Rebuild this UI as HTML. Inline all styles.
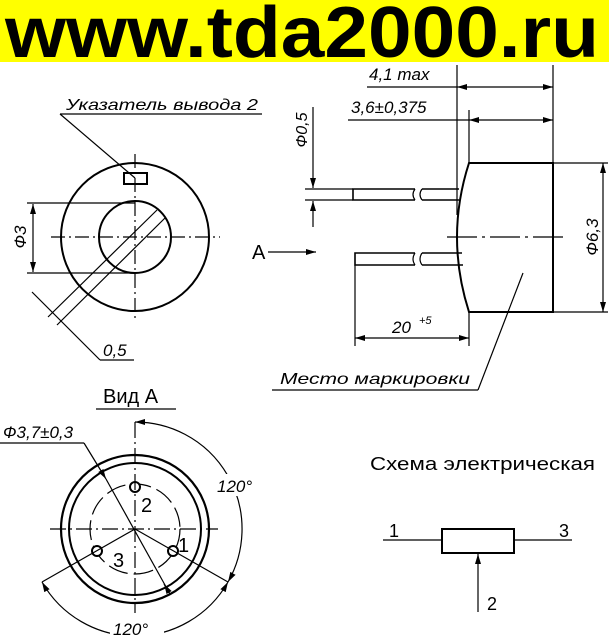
<!DOCTYPE html>
<html><head><meta charset="utf-8"><style>
html,body{margin:0;padding:0;background:#fff;}
svg{display:block;}
text{font-family:"Liberation Sans","DejaVu Sans",sans-serif;fill:#000;}
.i{font-style:italic;}
</style></head><body>
<svg width="609" height="637" viewBox="0 0 609 637" xmlns="http://www.w3.org/2000/svg">
<defs>
<marker id="ar" viewBox="0 0 10 6" refX="10" refY="3" markerWidth="10" markerHeight="6" orient="auto-start-reverse" markerUnits="userSpaceOnUse"><path d="M0,0 L10,3 L0,6 z" fill="#000"/></marker>
</defs>
<rect x="0" y="0" width="609" height="62" fill="#ffff00"/>
<text x="5" y="57" font-size="72" font-weight="bold" textLength="594" lengthAdjust="spacingAndGlyphs">www.tda2000.ru</text>

<g stroke="#000" fill="none" stroke-width="1.2">
<!-- left view -->
<circle cx="135" cy="237" r="74" stroke-width="2"/>
<circle cx="135" cy="237" r="36" stroke-width="2"/>
<rect x="124" y="173" width="23" height="11" stroke-width="2"/>
<line x1="135" y1="154" x2="135" y2="320" stroke-dasharray="14,4,2,4"/>
<line x1="51" y1="237" x2="220" y2="237" stroke-dasharray="14,4,2,4"/>
<line x1="157" y1="210" x2="48" y2="317"/>
<line x1="165" y1="218" x2="57" y2="325"/>
<line x1="32" y1="292" x2="100" y2="360"/>
<line x1="100" y1="360" x2="134" y2="360"/>
<line x1="27" y1="203" x2="135" y2="203"/>
<line x1="27" y1="273" x2="135" y2="273"/>
<line x1="33" y1="204" x2="33" y2="272" marker-start="url(#ar)" marker-end="url(#ar)"/>
<line x1="60" y1="114" x2="262" y2="114"/>
<line x1="60" y1="114" x2="135" y2="178"/>

<!-- side view -->
<path d="M469,163 L553,163 L553,312 L469,312 Q445,237 469,163 Z" stroke-width="2"/>
<path d="M415,189 L353,189 L353,200 L415,200 M422,189 L459,189 M422,200 L459,200" stroke-width="1.6"/>
<path d="M422,189 Q418,194.5 422,200 M415,189 Q411,194.5 415,200"/>
<path d="M415,253 L355,253 L355,265 L415,265 M422,253 L462,253 M422,265 L463,265" stroke-width="1.6"/>
<path d="M422,253 Q418,259 422,265 M415,253 Q411,259 415,265"/>
<line x1="313" y1="107" x2="313" y2="188" marker-end="url(#ar)"/>
<line x1="313" y1="227" x2="313" y2="201" marker-end="url(#ar)"/>
<line x1="305" y1="189" x2="353" y2="189"/>
<line x1="305" y1="200" x2="353" y2="200"/>
<line x1="268" y1="252" x2="316" y2="252" marker-end="url(#ar)"/>
<line x1="447" y1="237" x2="568" y2="237" stroke-dasharray="30,5,3,5"/>
<line x1="457" y1="65" x2="457" y2="215"/>
<line x1="553" y1="65" x2="553" y2="163"/>
<line x1="469" y1="110" x2="469" y2="163"/>
<line x1="367" y1="87" x2="457" y2="87"/>
<line x1="457" y1="87" x2="553" y2="87" marker-start="url(#ar)" marker-end="url(#ar)"/>
<line x1="348" y1="120" x2="469" y2="120"/>
<line x1="469" y1="120" x2="553" y2="120" marker-start="url(#ar)" marker-end="url(#ar)"/>
<line x1="553" y1="163" x2="608" y2="163"/>
<line x1="553" y1="312" x2="608" y2="312"/>
<line x1="603" y1="163" x2="603" y2="312" marker-start="url(#ar)" marker-end="url(#ar)"/>
<line x1="355" y1="265" x2="355" y2="346"/>
<line x1="469" y1="312" x2="469" y2="346"/>
<line x1="355" y1="338" x2="469" y2="338" marker-start="url(#ar)" marker-end="url(#ar)"/>
<line x1="523" y1="273" x2="478" y2="390"/>
<line x1="478" y1="390" x2="272" y2="390"/>

<!-- view A -->
<line x1="96" y1="409" x2="176" y2="409"/>
<circle cx="135" cy="529" r="74" stroke-width="2.2"/>
<circle cx="135" cy="529" r="66" stroke-width="2"/>
<circle cx="135" cy="529" r="45" stroke-dasharray="20,6"/>
<circle cx="135" cy="487" r="5" stroke-width="2" fill="#fff"/>
<circle cx="97" cy="551" r="5" stroke-width="2" fill="#fff"/>
<circle cx="173" cy="551" r="5" stroke-width="2" fill="#fff"/>
<line x1="135" y1="422" x2="135" y2="613" stroke-dasharray="16,4,2,4"/>
<line x1="50" y1="529" x2="218" y2="529" stroke-dasharray="16,4,2,4"/>
<line x1="135" y1="529" x2="228" y2="582"/>
<line x1="135" y1="529" x2="42" y2="582"/>
<line x1="0" y1="443" x2="84" y2="443"/>
<line x1="84" y1="443" x2="106" y2="479" marker-end="url(#ar)"/>
<line x1="106" y1="479" x2="170" y2="594"/>
<line x1="170" y1="594" x2="164" y2="584" marker-end="url(#ar)"/>
<path d="M135,422 A107,107 0 0 1 228,582" marker-start="url(#ar)" marker-end="url(#ar)"/>
<path d="M42,582 A107,107 0 0 0 228,582" marker-start="url(#ar)" marker-end="url(#ar)"/>

<!-- schematic -->
<rect x="442" y="529" width="72" height="24" stroke-width="2"/>
<line x1="383" y1="540" x2="442" y2="540"/>
<line x1="514" y1="540" x2="572" y2="540"/>
<line x1="478" y1="612" x2="478" y2="554" marker-end="url(#ar)"/>
</g>

<rect x="212" y="474" width="48" height="22" fill="#fff"/>
<rect x="110" y="619" width="54" height="18" fill="#fff"/>

<g font-size="16">
<text class="i" x="66" y="110" font-size="16" textLength="192" lengthAdjust="spacingAndGlyphs">Указатель вывода 2</text>
<text class="i" x="103" y="356" font-size="17">0,5</text>
<text class="i" x="20" y="243" font-size="17" text-anchor="middle" transform="rotate(-90 20 237)">Ф3</text>
<text class="i" x="301" y="136" font-size="16" text-anchor="middle" transform="rotate(-90 301 130)">Ф0,5</text>
<text x="252" y="259" font-size="20">A</text>
<text class="i" x="369" y="80" font-size="17">4,1 max</text>
<text class="i" x="351" y="113" font-size="17">3,6±0,375</text>
<text class="i" x="592" y="243" font-size="17" text-anchor="middle" transform="rotate(-90 592 237)">Ф6,3</text>
<text class="i" x="392" y="333" font-size="17">20</text>
<text class="i" x="419" y="324" font-size="11">+5</text>
<text class="i" x="280" y="384" font-size="16" textLength="190" lengthAdjust="spacingAndGlyphs">Место маркировки</text>
<text x="103" y="403" font-size="20">Вид А</text>
<text class="i" x="3" y="438" font-size="17">Ф3,7±0,3</text>
<text x="141" y="512" font-size="20">2</text>
<text x="113" y="567" font-size="20">3</text>
<text x="178" y="552" font-size="20">1</text>
<text class="i" x="217" y="492" font-size="17">120°</text>
<text class="i" x="113" y="635" font-size="17">120°</text>
<text x="370" y="470" font-size="18" textLength="225" lengthAdjust="spacingAndGlyphs">Схема электрическая</text>
<text x="389" y="537" font-size="18">1</text>
<text x="559" y="537" font-size="18">3</text>
<text x="487" y="610" font-size="18">2</text>
</g>
</svg>
</body></html>
